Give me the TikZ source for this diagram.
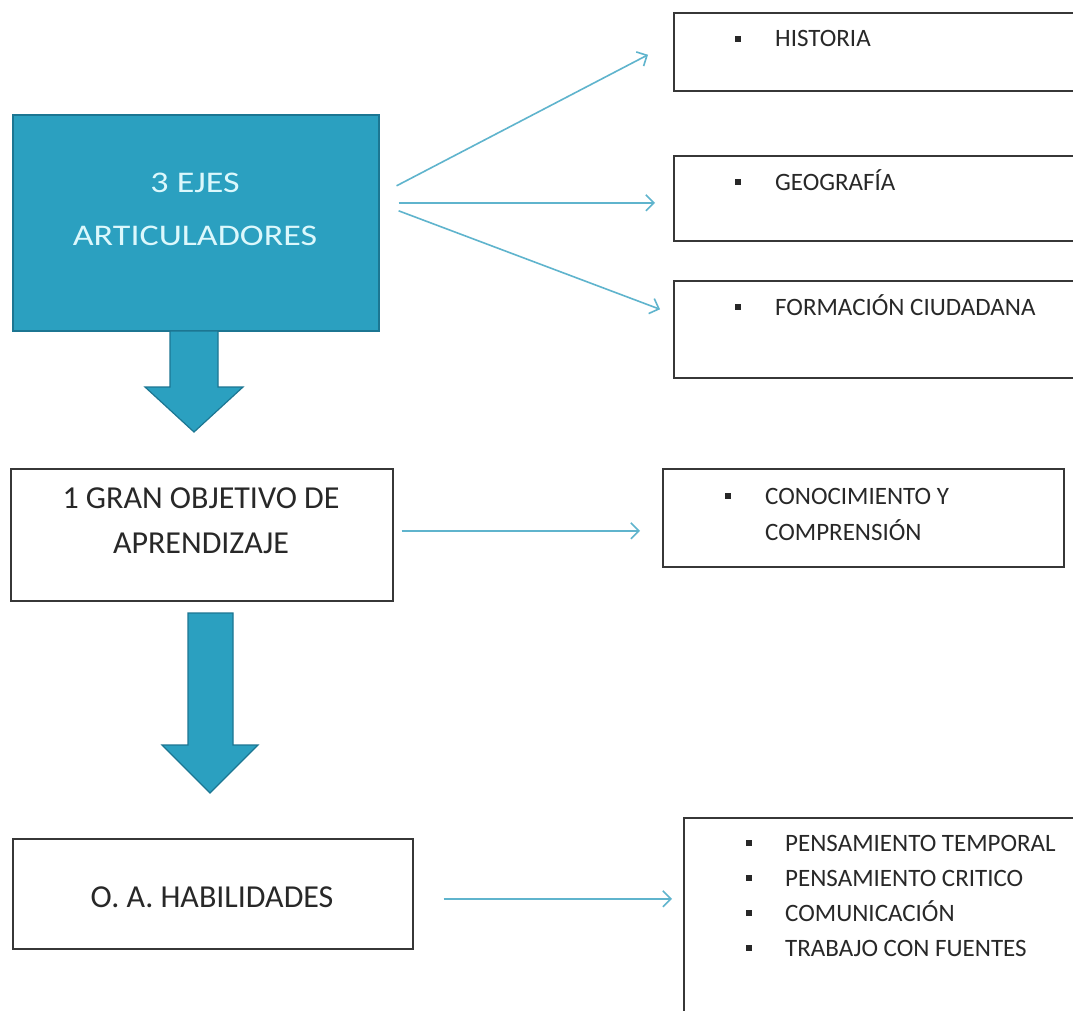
\documentclass[tikz,border=0pt]{standalone}
\usepackage{fontspec}
\setmainfont{Carlito}
\newfontfamily\widefont[FakeStretch=1.2]{Carlito}
\usetikzlibrary{arrows.meta}
\definecolor{tealfill}{RGB}{43,160,192}
\definecolor{tealedge}{RGB}{28,118,146}
\definecolor{tealtext}{RGB}{220,248,252}
\definecolor{connc}{RGB}{95,180,205}
\definecolor{txt}{RGB}{40,40,40}
\definecolor{boxedge}{RGB}{55,55,55}
\newcommand{\bul}[2]{\makebox[#1][l]{\raisebox{0.2em}{\rule{6pt}{6pt}}}#2}
\begin{document}
\begin{tikzpicture}[x=1pt,y=-1pt,
  box/.style={draw=boxedge,line width=1.6pt,fill=white,inner sep=0pt,anchor=north west},
  mainbox/.style={draw=tealedge,line width=1.6pt,fill=tealfill,inner sep=0pt,anchor=north west},
  conn/.style={draw=connc,line width=1.6pt,-{Straight Barb[length=8pt,width=16pt,line width=1.6pt]}},
  blockarrow/.style={draw=tealedge,line width=1.2pt,fill=tealfill,line join=miter},
  big/.style={font=\fontsize{32}{45}\selectfont,text=txt,align=center},
  small/.style={font=\fontsize{25}{35}\selectfont,text=txt,anchor=base west,inner sep=0pt}
]
\useasboundingbox[fill=white] (0,0) rectangle (1073,1011);

% main teal box
\node[mainbox,minimum width=366pt,minimum height=216pt] (ejes) at (12,114) {};
\node[font=\widefont\fontsize{30}{53}\selectfont,text=tealtext,align=center] (ejestxt) at (195,209) {3 EJES\\ARTICULADORES};

% right boxes (top)
\node[box,minimum width=420pt,minimum height=78pt] (hist) at (673,12) {};
\node[small] (histtxt) at (735,47) {\bul{40pt}{HISTORIA}};
\node[box,minimum width=420pt,minimum height=85pt] (geo) at (673,155) {};
\node[small] (geotxt) at (735,190) {\bul{40pt}{GEOGRAFÍA}};
\node[box,minimum width=420pt,minimum height=97pt] (form) at (673,280) {};
\node[small] (formtxt) at (735,315) {\bul{40pt}{FORMACIÓN CIUDADANA}};

\draw[conn] ([shift={(17,-37)}]ejes.east) -- ([shift={(-25,3)}]hist.west);
\draw[conn] ([shift={(19,-20)}]ejes.east) -- ([shift={(-18,4.5)}]geo.west);
\draw[conn] ([shift={(19,-12)}]ejes.east) -- ([shift={(-13,-20)}]form.west);

% block arrow 1
\draw[blockarrow] (170,331) -- (218,331) -- (218,387) -- (243,387) -- (194,432) -- (145,387) -- (170,387) -- cycle;

% objective box
\node[box,minimum width=382pt,minimum height=132pt] (obj) at (10,468) {};
\node[big] (objtxt) at (201,521) {1 GRAN OBJETIVO DE\\APRENDIZAJE};

\node[box,minimum width=401pt,minimum height=98pt] (cono) at (662,468) {};
\node[small] (conotxt1) at (725,504) {\bul{40pt}{CONOCIMIENTO Y}};
\node[small] (conotxt2) at (765,540) {COMPRENSIÓN};

\draw[conn] ([shift={(8,-4)}]obj.east) -- ([shift={(-22,13)}]cono.west);

% block arrow 2
\draw[blockarrow] (188,613) -- (233,613) -- (233,745) -- (258,745) -- (210,793) -- (162,745) -- (188,745) -- cycle;

% skills box
\node[box,minimum width=400pt,minimum height=110pt] (hab) at (12,838) {};
\node[big] (habtxt) at (212,897) {O. A. HABILIDADES};

\node[box,minimum width=420pt,minimum height=240pt] (skills) at (683,817) {};
\node[small] (sk1) at (746,851) {\bul{39pt}{PENSAMIENTO TEMPORAL}};
\node[small] (sk2) at (746,886) {\bul{39pt}{PENSAMIENTO CRITICO}};
\node[small] (sk3) at (746,921) {\bul{39pt}{COMUNICACIÓN}};
\node[small] (sk4) at (746,956) {\bul{39pt}{TRABAJO CON FUENTES}};

\draw[conn] ([shift={(30,5)}]hab.east) -- ([shift={(-11,-39)}]skills.west);
\end{tikzpicture}
\end{document}
